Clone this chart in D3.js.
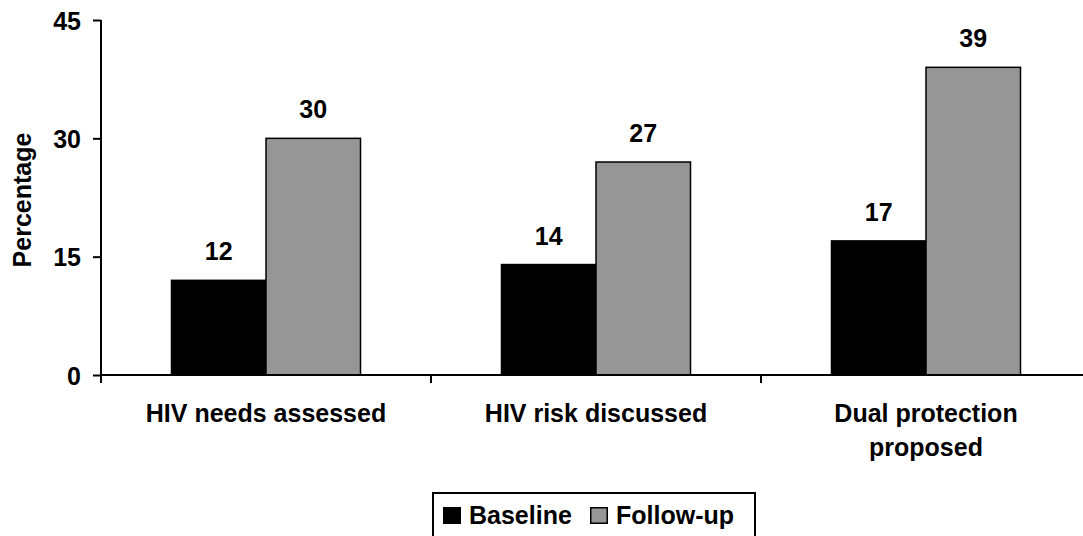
<!DOCTYPE html>
<html>
<head>
<meta charset="utf-8">
<script src="https://cdn.jsdelivr.net/npm/d3@7"></script>
<style>
  html, body { margin: 0; padding: 0; background: #fff; }
  svg { display: block; }
  text { font-family: "Liberation Sans", Arial, sans-serif; font-weight: bold; fill: #000; }
</style>
</head>
<body>
<svg id="chart" width="1083" height="536"></svg>
<script>
const categories = ["HIV needs assessed", "HIV risk discussed", "Dual protection proposed"];
const categoryLines = [["HIV needs assessed"], ["HIV risk discussed"], ["Dual protection", "proposed"]];
const seriesNames = ["Baseline", "Follow-up"];
const baselineValues = [12, 14, 17];
const followupValues = [30, 27, 39];
const yTicks = [0, 15, 30, 45];
const seriesColors = ["#000000", "#969696"];

const svg = d3.select("#chart");
const fontSize = 25;

const y = d3.scaleLinear().domain([0, 45]).range([375, 20]);
const x0 = d3.scaleBand().domain(categories).range([101, 1091]).padding(0);
const x1 = d3.scaleBand().domain(seriesNames).range([0, x0.bandwidth()]).paddingInner(0).paddingOuter(0.746);

const data = categories.map((c, i) => ({
  cat: c,
  vals: [
    { s: seriesNames[0], v: baselineValues[i] },
    { s: seriesNames[1], v: followupValues[i] }
  ]
}));

// bars
const groups = svg.append("g").selectAll("g").data(data).join("g")
  .attr("transform", d => `translate(${x0(d.cat)},0)`);
groups.selectAll("rect").data(d => d.vals).join("rect")
  .attr("x", d => x1(d.s))
  .attr("y", d => y(d.v))
  .attr("width", x1.bandwidth())
  .attr("height", d => y(0) - y(d.v))
  .attr("fill", (d, i) => seriesColors[i])
  .attr("stroke", "#000")
  .attr("stroke-width", 1.5);
groups.selectAll("text").data(d => d.vals).join("text")
  .attr("x", d => x1(d.s) + x1.bandwidth() / 2)
  .attr("y", d => y(d.v) - 20)
  .attr("text-anchor", "middle")
  .attr("font-size", fontSize)
  .text(d => d.v);

// y axis
const yAxis = d3.axisLeft(y).tickValues(yTicks).tickSize(8).tickPadding(12).tickFormat(d3.format("d"));
const gy = svg.append("g").attr("transform", "translate(101,0)").call(yAxis);
gy.select(".domain").attr("stroke", "#000").attr("stroke-width", 2).attr("d", `M0,${y(45)}V${y(0) + 8}`);
gy.selectAll(".tick line").attr("stroke", "#000").attr("stroke-width", 2);
gy.selectAll(".tick text").attr("font-size", fontSize).attr("font-family", null).attr("dy", "0.36em");

// x axis
const xTickScale = d3.scaleLinear().domain([0, categories.length]).range([101, 1091]);
svg.append("line").attr("x1", 101).attr("x2", 1091).attr("y1", y(0)).attr("y2", y(0))
  .attr("stroke", "#000").attr("stroke-width", 2);
svg.append("g").selectAll("line").data(d3.range(categories.length + 1)).join("line")
  .attr("x1", d => xTickScale(d)).attr("x2", d => xTickScale(d))
  .attr("y1", y(0)).attr("y2", y(0) + 8)
  .attr("stroke", "#000").attr("stroke-width", 2);

// category labels
svg.append("g").selectAll("text").data(categories).join("text")
  .attr("x", d => x0(d) + x0.bandwidth() / 2)
  .attr("y", 422)
  .attr("text-anchor", "middle")
  .attr("font-size", fontSize)
  .each(function(d, i) {
    d3.select(this).selectAll("tspan").data(categoryLines[i]).join("tspan")
      .attr("x", x0(d) + x0.bandwidth() / 2)
      .attr("dy", (t, j) => j === 0 ? 0 : 34)
      .text(t => t);
  });

// y title
svg.append("text")
  .attr("transform", "translate(31,200) rotate(-90)")
  .attr("text-anchor", "middle")
  .attr("font-size", fontSize)
  .text("Percentage");

// legend
const lg = svg.append("g");
lg.append("rect").attr("x", 433).attr("y", 493).attr("width", 322).attr("height", 50)
  .attr("fill", "#fff").attr("stroke", "#000").attr("stroke-width", 2);
const legendX = [443, 590];
seriesNames.forEach((s, i) => {
  lg.append("rect").attr("x", legendX[i] + 0.75).attr("y", 507.75).attr("width", 16.5).attr("height", 15.5)
    .attr("fill", seriesColors[i]).attr("stroke", "#000").attr("stroke-width", 1.5);
  lg.append("text").attr("x", legendX[i] + 26).attr("y", 524).attr("font-size", fontSize).text(s);
});
</script>
</body>
</html>
